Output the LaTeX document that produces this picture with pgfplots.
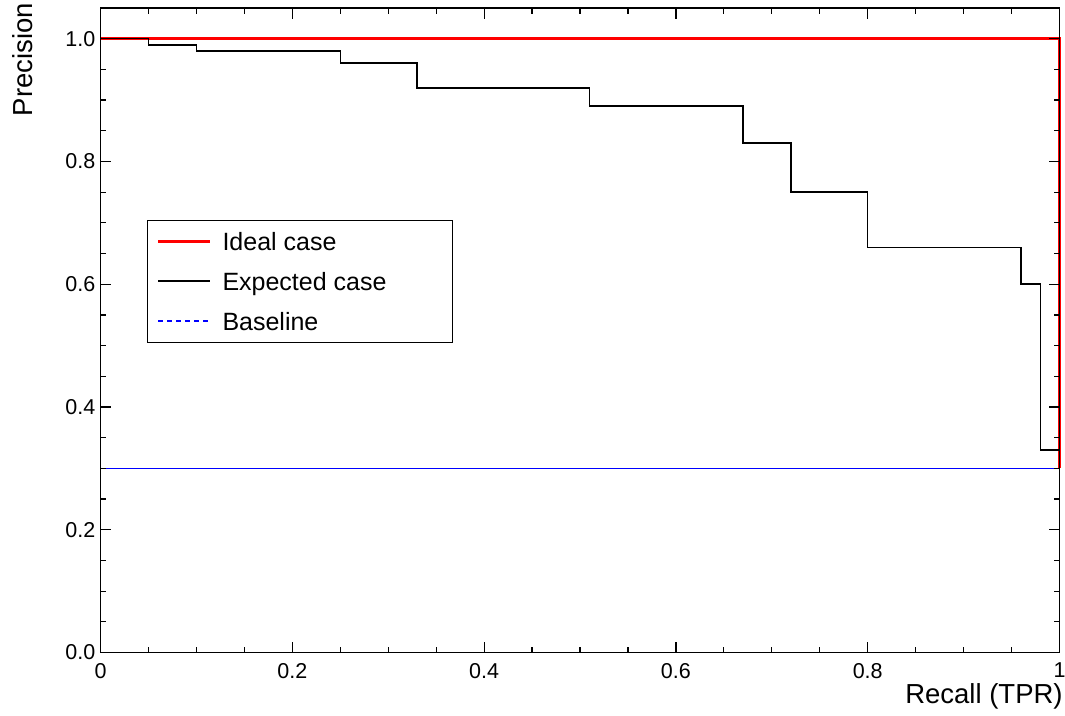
\documentclass[border=0pt]{standalone}
\usepackage{fontspec}
\setmainfont{Liberation Sans}
\usepackage{pgfplots}
\pgfplotsset{compat=1.18}
\begin{document}
\begin{tikzpicture}
\useasboundingbox (0,0) rectangle (1065pt,715pt);
\begin{axis}[
  at={(100.5pt,62.5pt)}, anchor=south west,
  scale only axis, width=959pt, height=644.5pt,
  xmin=0, xmax=1, ymin=0, ymax=1.05,
  xtick={0,0.2,0.4,0.6,0.8,1}, xticklabels={0,0.2,0.4,0.6,0.8,1},
  ytick={0,0.2,0.4,0.6,0.8,1}, yticklabels={0.0,0.2,0.4,0.6,0.8,1.0},
  minor x tick num=3, minor y tick num=3,
  tick align=inside,
  major tick length=11pt, minor tick length=6pt,
  every tick/.style={black, line width=1.2pt},
  axis line style={line width=1.5pt},
  axis on top, clip=false,
  /pgf/number format/assume math mode=true,
  tick label style={font=\fontsize{21.5}{21.5}\selectfont},
  xticklabel style={inner sep=0pt, anchor=north, yshift=-10.5pt},
  yticklabel style={inner sep=0pt, anchor=east, xshift=-5pt},
  xlabel={Recall (TPR)}, ylabel={Precision},
  every axis x label/.style={at={(axis description cs:1.0035,-0.0784)}, anchor=base east, inner sep=0pt, font=\fontsize{27.5}{27.5}\selectfont},
  every axis y label/.style={at={(axis description cs:-0.0704,1.0078)}, anchor=base east, rotate=90, inner sep=0pt, font=\fontsize{27.5}{27.5}\selectfont},
  legend cell align=left,
  legend image code/.code={\path (0pt,0pt); \draw[#1] (0pt,0.5pt) -- (52pt,0.5pt);},
  legend style={at={(axis description cs:0.0485,0.671)}, anchor=north west,
    line width=1pt, fill=white,
    inner xsep=9pt, inner ysep=1pt, column sep=9pt,
    font=\fontsize{25}{25}\selectfont,
    nodes={inner sep=2pt, text height=27pt, text depth=9pt}},
]
\addplot[red, line width=3pt] coordinates {(0,1) (1,1) (1,0.3)};
\addlegendentry{Ideal case}
\addplot[black, line width=1.5pt, const plot] coordinates {
  (0,1) (0.05,0.99) (0.10,0.98) (0.25,0.96) (0.33,0.92) (0.51,0.89)
  (0.67,0.83) (0.72,0.75) (0.80,0.66) (0.96,0.60) (0.98,0.33) (1,0.33)};
\addlegendentry{Expected case\hspace*{55pt}}
\addplot[blue, line width=1.2pt, forget plot] coordinates {(0,0.3) (1,0.3)};
\addlegendimage{color=blue, line width=1.4pt, dash pattern=on 5pt off 4pt}
\addlegendentry{Baseline}
\end{axis}
\end{tikzpicture}
\end{document}
